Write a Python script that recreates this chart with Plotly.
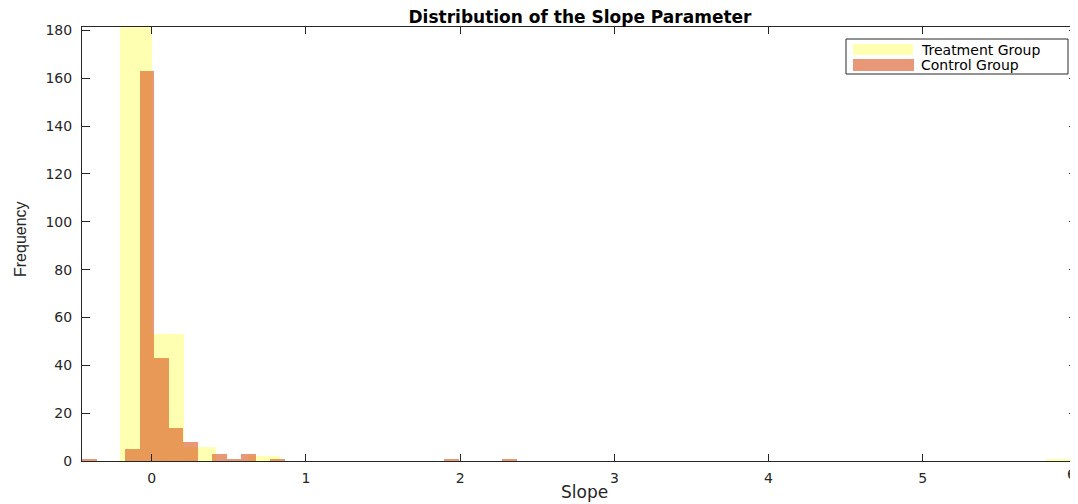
import plotly.graph_objects as go

# ---- data ----
treat_start = -0.205
treat_width = 0.207
treat_counts = [190, 53, 6, 0, 2, 0, 0, 0, 0, 0,
                0, 0, 0, 0, 0, 0, 0, 0, 0, 0,
                0, 0, 0, 0, 0, 0, 0, 0, 0, 1]

ctrl_start = -0.452
ctrl_width = 0.094
ctrl_counts = [1, 0, 0, 5, 163, 43, 14, 8, 0, 3,
               1, 3, 0, 1, 0, 0, 0, 0, 0, 0,
               0, 0, 0, 0, 0, 1, 0, 0, 0, 1]

series_names = ["Treatment Group", "Control Group"]
x_ticks = [0, 1, 2, 3, 4, 5, 6]
y_ticks = [0, 20, 40, 60, 80, 100, 120, 140, 160, 180]

treat_fill = "rgba(255,255,0,0.3)"
ctrl_fill = "rgba(217,84,26,0.6)"
axis_col = "#262626"

# page has an 8px body margin; figure is sized to fill the rest of the window
OFF = 8
W, H = 1078 - OFF, 504 - OFF
# plot area in page pixels: x 82..1077, y 27..461
L, R, T, B = 82 - OFF, 1078 - 1077, 27 - OFF, 504 - 461
pw, ph = W - L - R, H - T - B


def px(xp):  # page pixel -> paper
    return (xp - OFF - L) / pw


def py(yp):
    return (H - B - (yp - OFF)) / ph


treat_left = [treat_start + i * treat_width for i in range(len(treat_counts))]
ctrl_left = [ctrl_start + i * ctrl_width for i in range(len(ctrl_counts))]

fig = go.Figure()
fig.add_trace(go.Bar(x=treat_left, y=treat_counts, width=treat_width, offset=0,
                     marker=dict(color=treat_fill, line=dict(width=0)),
                     name=series_names[0], showlegend=False))
fig.add_trace(go.Bar(x=ctrl_left, y=ctrl_counts, width=ctrl_width, offset=0,
                     marker=dict(color=ctrl_fill, line=dict(width=0)),
                     name=series_names[1], showlegend=False))

tick_font = dict(family="DejaVu Sans", size=14, color=axis_col)

fig.update_layout(
    width=W, height=H,
    margin=dict(l=L, r=R, t=T, b=B, pad=0, autoexpand=False),
    paper_bgcolor="white", plot_bgcolor="white",
    barmode="overlay", bargap=0,
    title=dict(text="<b>Distribution of the Slope Parameter</b>",
               font=dict(family="DejaVu Sans", size=17, color="black"),
               x=(580 - OFF) / W, xanchor="center", xref="container",
               y=1 - (17 - OFF) / H, yanchor="middle", yref="container",
               automargin=False),
    xaxis=dict(range=[ctrl_start, 6.0], tickvals=x_ticks,
               ticktext=[str(v) if v != x_ticks[-1] else "" for v in x_ticks],
               ticks="inside", ticklen=7, tickwidth=1, tickcolor=axis_col,
               showline=True, linecolor=axis_col, linewidth=1, mirror="ticks",
               showgrid=False, zeroline=False, tickfont=tick_font,
               ticklabelstandoff=4, automargin=False),
    yaxis=dict(range=[0, 181.4], tickvals=y_ticks,
               ticktext=[str(v) for v in y_ticks],
               ticks="inside", ticklen=8, tickwidth=1, tickcolor=axis_col,
               showline=True, linecolor=axis_col, linewidth=1, mirror="ticks",
               showgrid=False, zeroline=False, tickfont=tick_font,
               ticklabelstandoff=6, automargin=False),
)

# last x tick label sits on the window edge
fig.add_annotation(text=str(x_ticks[-1]), x=x_ticks[-1], xref="x", y=py(474), yref="paper",
                   showarrow=False, xanchor="right", yanchor="middle", xshift=1,
                   font=tick_font)

# axis titles
fig.add_annotation(text="Slope", x=px(584), y=py(492), xref="paper", yref="paper",
                   showarrow=False, xanchor="center", yanchor="middle",
                   font=dict(family="DejaVu Sans", size=17, color=axis_col))
fig.add_annotation(text="Frequency", x=px(20), y=py(239), xref="paper", yref="paper",
                   showarrow=False, xanchor="center", yanchor="middle", textangle=-90,
                   font=dict(family="Liberation Sans", size=16, color=axis_col))

# legend box drawn by hand (wide MATLAB-style swatches)
fig.add_shape(type="rect", xref="paper", yref="paper",
              x0=px(846), x1=px(1068), y0=py(74), y1=py(39),
              line=dict(color=axis_col, width=1), fillcolor="white", layer="above")
fig.add_shape(type="rect", xref="paper", yref="paper",
              x0=px(853), x1=px(913), y0=py(55), y1=py(44),
              line=dict(width=0), fillcolor=treat_fill, layer="above")
fig.add_shape(type="rect", xref="paper", yref="paper",
              x0=px(853), x1=px(914), y0=py(71), y1=py(59),
              line=dict(width=0), fillcolor=ctrl_fill, layer="above")
for name, yp in zip(series_names, [50, 65]):
    fig.add_annotation(text=name, x=px(919), y=py(yp), xref="paper", yref="paper",
                       showarrow=False, xanchor="left", yanchor="middle",
                       font=dict(family="DejaVu Sans", size=14, color="black"))

fig.write_html("out.html")
